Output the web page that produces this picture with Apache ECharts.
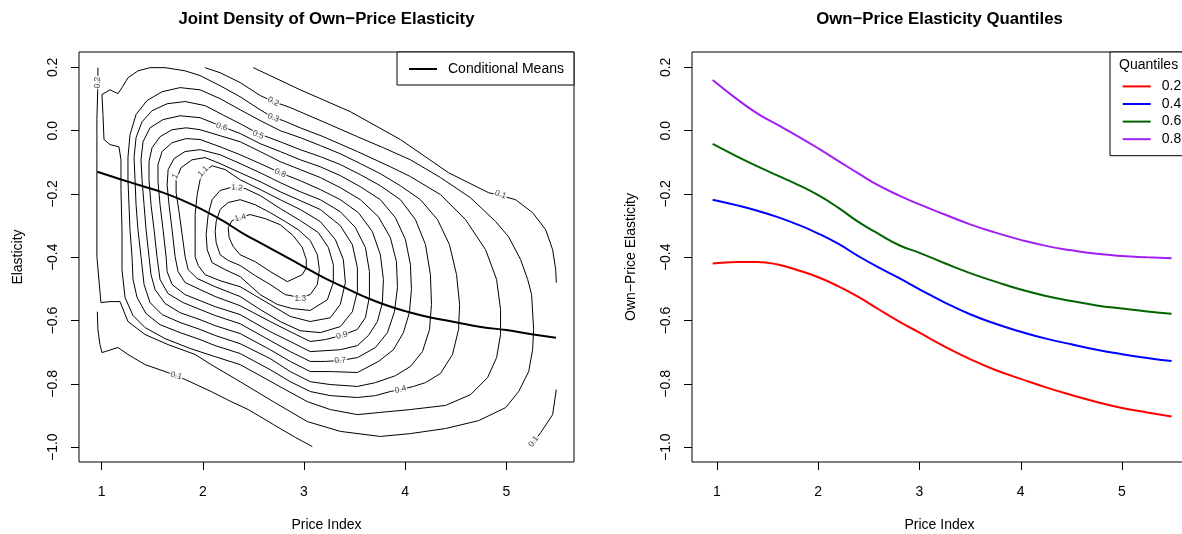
<!DOCTYPE html>
<html><head><meta charset="utf-8">
<script src="https://cdn.jsdelivr.net/npm/echarts@6/dist/echarts.min.js"></script>
<style>html,body{margin:0;padding:0;background:#fff}#c{width:1182px;height:534px}</style>
</head><body><div id="c"></div>
<script>
// ---------- tick labels ----------
const xTicks = [1, 2, 3, 4, 5];
const yTicks = [-1, -0.8, -0.6, -0.4, -0.2, 0, 0.2];

// ---------- left panel: conditional means ----------
const meanX = [0.957,1.2,1.4,1.6,1.8,2.0,2.2,2.4,2.6,2.8,3.0,3.2,3.4,3.6,3.8,4.0,4.25,4.5,4.75,5.0,5.25,5.49];
const meanY = [-0.13,-0.155,-0.175,-0.195,-0.22,-0.25,-0.285,-0.325,-0.36,-0.395,-0.43,-0.465,-0.495,-0.525,-0.55,-0.57,-0.59,-0.605,-0.62,-0.63,-0.643,-0.654];

// ---------- left panel: density contour lines (x = price index, y = elasticity) ----------
const contour01a = [[2.498,0.199],[2.666,0.174],[2.963,0.129],[3.458,0.060],[3.953,-0.028],[4.429,-0.133],[4.825,-0.196],[4.943,-0.205],[5.092,-0.218],[5.260,-0.259],[5.389,-0.313],[5.458,-0.376],[5.488,-0.439],[5.494,-0.480]];
const contour01b = [[5.494,-0.818],[5.458,-0.897],[5.340,-0.954],[5.270,-0.982],[5.221,-0.995]];
const contour01c = [[0.957,-0.572],[0.963,-0.628],[0.983,-0.676],[1.003,-0.701],[1.161,-0.685],[1.260,-0.707],[1.429,-0.739],[1.627,-0.761],[1.736,-0.774],[1.825,-0.786],[2.082,-0.824],[2.280,-0.856],[2.449,-0.881],[2.696,-0.928],[2.914,-0.969],[3.082,-0.998]];
const contour02 = [[0.963,0.199],[0.963,0.152],[0.953,0.035],[0.953,-0.092],[0.953,-0.218],[0.953,-0.398],[0.993,-0.543],[1.082,-0.540],[1.181,-0.540],[1.260,-0.603],[1.429,-0.644],[1.657,-0.676],[1.924,-0.707],[2.082,-0.739],[2.369,-0.793],[2.696,-0.856],[3.033,-0.919],[3.359,-0.950],[3.755,-0.966],[4.052,-0.957],[4.399,-0.941],[4.726,-0.916],[4.993,-0.875],[5.122,-0.824],[5.221,-0.761],[5.260,-0.692],[5.270,-0.628],[5.250,-0.518],[5.211,-0.470],[5.141,-0.407],[5.022,-0.335],[4.894,-0.287],[4.646,-0.212],[4.349,-0.148],[4.052,-0.092],[3.785,-0.054],[3.528,-0.019],[3.191,0.028],[2.864,0.073],[2.696,0.092],[2.567,0.111],[2.369,0.152],[2.171,0.183],[2.023,0.199]];
const contour03 = [[1.023,-0.028],[1.013,0.051],[1.003,0.114],[1.082,0.129],[1.161,0.117],[1.201,0.136],[1.260,0.167],[1.359,0.189],[1.478,0.199],[1.627,0.199],[1.825,0.189],[1.973,0.174],[2.171,0.142],[2.369,0.107],[2.567,0.066],[2.696,0.041],[2.795,0.032],[2.963,0.009],[3.191,-0.019],[3.528,-0.066],[3.854,-0.114],[4.052,-0.145],[4.349,-0.202],[4.597,-0.281],[4.795,-0.376],[4.904,-0.470],[4.943,-0.565],[4.943,-0.644],[4.904,-0.717],[4.815,-0.780],[4.646,-0.834],[4.399,-0.868],[4.052,-0.881],[3.755,-0.890],[3.528,-0.897],[3.260,-0.881],[3.033,-0.856],[2.815,-0.818],[2.567,-0.774],[2.369,-0.739],[2.122,-0.714],[1.874,-0.688],[1.627,-0.657],[1.429,-0.622],[1.310,-0.584],[1.231,-0.527],[1.201,-0.439],[1.201,-0.313],[1.191,-0.186],[1.191,-0.092],[1.171,-0.051],[1.082,-0.044],[1.023,-0.028]];
const contour04 = [[1.300,-0.398],[1.280,-0.313],[1.270,-0.234],[1.260,-0.155],[1.260,-0.085],[1.280,-0.013],[1.340,0.051],[1.448,0.095],[1.597,0.123],[1.775,0.136],[1.973,0.129],[2.171,0.101],[2.369,0.066],[2.567,0.032],[2.765,0.000],[2.963,-0.022],[3.161,-0.047],[3.359,-0.073],[3.557,-0.104],[3.755,-0.136],[3.953,-0.174],[4.151,-0.218],[4.320,-0.281],[4.438,-0.360],[4.508,-0.455],[4.538,-0.549],[4.528,-0.628],[4.468,-0.707],[4.349,-0.767],[4.201,-0.796],[4.082,-0.808],[3.953,-0.818],[3.854,-0.824],[3.706,-0.837],[3.528,-0.843],[3.260,-0.837],[3.062,-0.824],[2.864,-0.793],[2.666,-0.755],[2.369,-0.704],[2.122,-0.679],[1.973,-0.660],[1.775,-0.638],[1.577,-0.613],[1.439,-0.578],[1.350,-0.527],[1.310,-0.470],[1.300,-0.398]];
const contour05 = [[1.389,-0.398],[1.359,-0.313],[1.340,-0.234],[1.330,-0.155],[1.320,-0.085],[1.340,-0.022],[1.399,0.028],[1.498,0.063],[1.647,0.085],[1.825,0.092],[2.023,0.079],[2.191,0.051],[2.369,0.022],[2.547,-0.009],[2.765,-0.035],[2.963,-0.060],[3.161,-0.082],[3.359,-0.107],[3.557,-0.139],[3.755,-0.174],[3.953,-0.218],[4.102,-0.281],[4.201,-0.360],[4.250,-0.455],[4.260,-0.549],[4.241,-0.628],[4.171,-0.698],[4.052,-0.745],[3.904,-0.774],[3.706,-0.796],[3.528,-0.808],[3.260,-0.802],[3.062,-0.793],[2.864,-0.761],[2.666,-0.720],[2.369,-0.673],[2.122,-0.647],[1.973,-0.628],[1.775,-0.606],[1.597,-0.581],[1.478,-0.543],[1.419,-0.486],[1.389,-0.398]];
const contour06 = [[1.468,-0.398],[1.439,-0.313],[1.419,-0.234],[1.399,-0.155],[1.389,-0.092],[1.409,-0.035],[1.478,0.009],[1.607,0.035],[1.775,0.047],[1.973,0.041],[2.191,0.013],[2.369,-0.009],[2.567,-0.041],[2.765,-0.066],[2.963,-0.092],[3.161,-0.114],[3.359,-0.142],[3.557,-0.177],[3.755,-0.218],[3.904,-0.275],[4.003,-0.344],[4.052,-0.423],[4.062,-0.502],[4.042,-0.575],[3.983,-0.638],[3.884,-0.692],[3.736,-0.729],[3.528,-0.764],[3.260,-0.761],[3.062,-0.761],[2.864,-0.729],[2.666,-0.692],[2.369,-0.641],[2.122,-0.616],[1.973,-0.597],[1.775,-0.575],[1.627,-0.546],[1.528,-0.502],[1.488,-0.455],[1.468,-0.398]];
const contour07 = [[1.547,-0.398],[1.518,-0.313],[1.488,-0.234],[1.468,-0.155],[1.468,-0.098],[1.498,-0.054],[1.577,-0.019],[1.696,0.003],[1.835,0.009],[1.973,0.003],[2.171,-0.016],[2.369,-0.035],[2.567,-0.066],[2.765,-0.098],[2.963,-0.123],[3.161,-0.148],[3.359,-0.180],[3.557,-0.218],[3.736,-0.272],[3.854,-0.338],[3.914,-0.414],[3.924,-0.496],[3.894,-0.572],[3.825,-0.638],[3.706,-0.685],[3.528,-0.717],[3.359,-0.726],[3.211,-0.729],[3.062,-0.729],[2.864,-0.698],[2.666,-0.663],[2.369,-0.610],[2.122,-0.584],[1.973,-0.565],[1.805,-0.543],[1.657,-0.515],[1.577,-0.470],[1.547,-0.398]];
const contour08 = [[1.637,-0.398],[1.607,-0.313],[1.577,-0.234],[1.557,-0.161],[1.557,-0.107],[1.597,-0.066],[1.696,-0.038],[1.835,-0.025],[1.973,-0.028],[2.171,-0.051],[2.369,-0.076],[2.567,-0.104],[2.765,-0.133],[2.963,-0.158],[3.161,-0.186],[3.359,-0.218],[3.538,-0.259],[3.676,-0.319],[3.755,-0.392],[3.785,-0.470],[3.775,-0.543],[3.726,-0.603],[3.637,-0.647],[3.528,-0.679],[3.359,-0.692],[3.062,-0.698],[2.864,-0.666],[2.666,-0.635],[2.369,-0.581],[2.122,-0.556],[1.973,-0.537],[1.825,-0.518],[1.696,-0.486],[1.647,-0.445],[1.637,-0.398]];
const contour09 = [[1.726,-0.398],[1.696,-0.313],[1.666,-0.234],[1.647,-0.171],[1.657,-0.123],[1.716,-0.088],[1.825,-0.066],[1.973,-0.060],[2.171,-0.076],[2.369,-0.104],[2.567,-0.133],[2.765,-0.164],[2.963,-0.193],[3.161,-0.218],[3.359,-0.256],[3.508,-0.306],[3.607,-0.369],[3.647,-0.445],[3.647,-0.524],[3.607,-0.591],[3.528,-0.628],[3.369,-0.647],[3.211,-0.660],[3.062,-0.666],[2.864,-0.635],[2.666,-0.603],[2.369,-0.553],[2.122,-0.524],[1.973,-0.502],[1.825,-0.480],[1.755,-0.445],[1.726,-0.398]];
const contour10 = [[1.825,-0.398],[1.795,-0.328],[1.765,-0.256],[1.736,-0.196],[1.736,-0.155],[1.785,-0.117],[1.894,-0.092],[2.023,-0.085],[2.171,-0.104],[2.369,-0.133],[2.567,-0.161],[2.765,-0.193],[2.963,-0.221],[3.161,-0.249],[3.359,-0.300],[3.478,-0.360],[3.528,-0.433],[3.528,-0.508],[3.478,-0.572],[3.359,-0.619],[3.161,-0.638],[2.963,-0.632],[2.765,-0.603],[2.567,-0.565],[2.369,-0.524],[2.122,-0.493],[1.944,-0.467],[1.855,-0.439],[1.825,-0.398]];
const contour11 = [[1.924,-0.398],[1.924,-0.328],[1.924,-0.265],[1.944,-0.202],[1.973,-0.155],[2.013,-0.129],[2.092,-0.111],[2.221,-0.123],[2.369,-0.155],[2.567,-0.186],[2.765,-0.218],[2.963,-0.249],[3.161,-0.287],[3.310,-0.344],[3.389,-0.407],[3.409,-0.480],[3.359,-0.549],[3.260,-0.591],[3.062,-0.603],[2.864,-0.587],[2.666,-0.549],[2.369,-0.493],[2.171,-0.474],[2.023,-0.455],[1.954,-0.426],[1.924,-0.398]];
const contour12 = [[2.053,-0.265],[2.092,-0.218],[2.171,-0.189],[2.270,-0.180],[2.419,-0.183],[2.567,-0.205],[2.765,-0.246],[2.963,-0.284],[3.142,-0.322],[3.241,-0.369],[3.290,-0.423],[3.290,-0.480],[3.231,-0.534],[3.062,-0.568],[2.884,-0.562],[2.736,-0.549],[2.567,-0.518],[2.369,-0.461],[2.221,-0.439],[2.092,-0.417],[2.043,-0.376],[2.033,-0.328],[2.053,-0.265]];
const contour13 = [[2.132,-0.287],[2.171,-0.249],[2.251,-0.227],[2.369,-0.218],[2.518,-0.234],[2.666,-0.259],[2.815,-0.287],[2.944,-0.313],[3.062,-0.347],[3.132,-0.392],[3.152,-0.439],[3.132,-0.486],[3.062,-0.518],[2.963,-0.527],[2.815,-0.518],[2.666,-0.486],[2.518,-0.458],[2.369,-0.426],[2.251,-0.410],[2.171,-0.392],[2.132,-0.354],[2.122,-0.319],[2.132,-0.287]];
const contour14 = [[2.251,-0.306],[2.290,-0.284],[2.369,-0.275],[2.468,-0.265],[2.617,-0.278],[2.765,-0.297],[2.894,-0.332],[2.983,-0.369],[3.023,-0.407],[3.023,-0.433],[2.983,-0.455],[2.835,-0.477],[2.666,-0.445],[2.518,-0.414],[2.369,-0.392],[2.300,-0.366],[2.260,-0.338],[2.251,-0.306]];

// contour level labels
const labelX = [0.963,2.696,2.696,2.188,2.547,2.765,2.003,1.726,2.337,2.369,2.963,3.376,3.359,3.953,1.736,4.943,5.270];
const labelY = [0.152,0.092,0.041,0.012,-0.013,-0.134,-0.129,-0.144,-0.181,-0.275,-0.531,-0.647,-0.726,-0.818,-0.774,-0.202,-0.982];
const labelText = ['0.2','0.2','0.3','0.6','0.5','0.8','1.1','1','1.2','1.4','1.3','0.9','0.7','0.4','0.1','0.1','0.1'];

// ---------- right panel: quantile curves ----------
const qX = [0.957,1.2,1.4,1.6,1.8,2.0,2.2,2.4,2.6,2.8,3.0,3.25,3.5,3.75,4.0,4.25,4.5,4.75,5.0,5.25,5.49];
const q20 = [-0.420,-0.415,-0.415,-0.423,-0.441,-0.463,-0.492,-0.526,-0.565,-0.603,-0.638,-0.682,-0.722,-0.756,-0.784,-0.811,-0.835,-0.857,-0.876,-0.890,-0.903];
const q40 = [-0.218,-0.236,-0.253,-0.273,-0.297,-0.325,-0.358,-0.397,-0.433,-0.466,-0.501,-0.543,-0.580,-0.610,-0.635,-0.657,-0.675,-0.692,-0.706,-0.718,-0.728];
const q60 = [-0.042,-0.082,-0.113,-0.142,-0.171,-0.204,-0.244,-0.289,-0.327,-0.362,-0.386,-0.419,-0.450,-0.477,-0.502,-0.522,-0.538,-0.552,-0.562,-0.571,-0.578];
const q80 = [0.160,0.099,0.054,0.018,-0.018,-0.056,-0.096,-0.136,-0.174,-0.205,-0.233,-0.265,-0.296,-0.322,-0.345,-0.364,-0.378,-0.389,-0.396,-0.400,-0.403];
const quantileNames = ['0.2','0.4','0.6','0.8'];

// ---------- styling ----------
const FONT = '"Liberation Sans", Arial, Helvetica, sans-serif';
const labelAngle = [90,-27,-22,-15,-22,-22,45,65,-5,15,0,15,3,15,-15,-20,55];
const qColors = ['#FF0000','#0000FF','#006400','#A020F0'];

function fmtY(v){ const s = Math.abs(v).toFixed(1); return (v < -1e-9 ? '\u2212' : '') + s; }
function xAxisCfg(gi, min, max){
  return {type:'value', gridIndex:gi, min:min, max:max, position:'bottom',
    name:'Price Index', nameLocation:'middle', nameGap:56,
    nameTextStyle:{fontSize:14, color:'#000', fontFamily:FONT},
    axisLine:{show:false, onZero:false},
    axisTick:{show:true, inside:false, length:8, customValues:xTicks, lineStyle:{color:'#000', width:1}},
    axisLabel:{show:true, customValues:xTicks, margin:23, fontSize:14, color:'#000', fontFamily:FONT,
      formatter:function(v){return String(Math.round(v));}},
    splitLine:{show:false}};
}
function yAxisCfg(gi, name){
  return {type:'value', gridIndex:gi, min:-1.0467, max:0.2485, position:'left',
    name:name, nameLocation:'middle', nameGap:54, nameRotate:90,
    nameTextStyle:{fontSize:14, color:'#000', fontFamily:FONT},
    axisLine:{show:false, onZero:false},
    axisTick:{show:true, inside:false, length:8, customValues:yTicks, lineStyle:{color:'#000', width:1}},
    axisLabel:{show:true, customValues:yTicks, rotate:90, margin:19, fontSize:14, color:'#000', fontFamily:FONT, formatter:fmtY},
    splitLine:{show:false}};
}

const contourPieces = [contour01a, contour01b, contour01c, contour02, contour03, contour04, contour05, contour06, contour07, contour08, contour09, contour10, contour11, contour12, contour13, contour14];

const series = [];
contourPieces.forEach(function(p, i){
  series.push({type:'line', name:'contour'+i, xAxisIndex:0, yAxisIndex:0, data:p, showSymbol:false, symbol:'none',
    lineStyle:{color:'#000', width:1}, silent:true, z:2, smooth:false});
});
series.push({type:'scatter', name:'levels', xAxisIndex:0, yAxisIndex:0, symbol:'circle', symbolSize:1,
  itemStyle:{color:'rgba(255,255,255,0)'}, silent:true, z:4,
  labelLayout:{hideOverlap:false},
  data: labelX.map(function(x,i){ return {value:[x, labelY[i]], name:labelText[i], label:{rotate:labelAngle[i]}}; }),
  label:{show:true, position:'inside', formatter:'{b}', fontSize:8.4, color:'#111', fontFamily:FONT, backgroundColor:'#fff', padding:[0,1]}
});
series.push({type:'line', name:'Conditional Means', xAxisIndex:0, yAxisIndex:0,
  data: meanX.map(function(x,i){return [x, meanY[i]];}), showSymbol:false, symbol:'none', smooth:true,
  lineStyle:{color:'#000', width:2}, itemStyle:{color:'#000'}, z:5});
[q20,q40,q60,q80].forEach(function(q, k){
  series.push({type:'line', name:quantileNames[k], xAxisIndex:1, yAxisIndex:1,
    data: qX.map(function(x,i){return [x, q[i]];}), showSymbol:false, symbol:'none', smooth:true,
    lineStyle:{color:qColors[k], width:2}, itemStyle:{color:qColors[k]}, z:3});
});

const option = {
  animation:false,
  backgroundColor:'#fff',
  title:[
    {text:'Joint Density of Own\u2212Price Elasticity', left:326.5, top:19, textAlign:'center', textVerticalAlign:'middle', padding:0,
      textStyle:{fontSize:16.8, fontWeight:'bold', color:'#000', fontFamily:FONT}},
    {text:'Own\u2212Price Elasticity Quantiles', left:939.5, top:19, textAlign:'center', textVerticalAlign:'middle', padding:0,
      textStyle:{fontSize:16.8, fontWeight:'bold', color:'#000', fontFamily:FONT}}
  ],
  grid:[
    {left:79, top:52, width:495, height:410, show:true, borderColor:'#000', borderWidth:1, backgroundColor:'transparent', containLabel:false, outerBoundsMode:'none'},
    {left:692, top:52, width:495, height:410, show:true, borderColor:'#000', borderWidth:1, backgroundColor:'transparent', containLabel:false, outerBoundsMode:'none'}
  ],
  xAxis:[xAxisCfg(0, 0.776, 5.669), xAxisCfg(1, 0.753, 5.642)],
  yAxis:[yAxisCfg(0, 'Elasticity'), yAxisCfg(1, 'Own\u2212Price Elasticity')],
  legend:[
    {data:['Conditional Means'], left:397, top:52, orient:'vertical', icon:'rect', itemWidth:28, itemHeight:2,
      padding:[10,10,9,12], borderColor:'#000', borderWidth:1, backgroundColor:'#fff', selectedMode:false,
      textStyle:{fontSize:14, color:'#000', fontFamily:FONT, lineHeight:14, padding:[0,0,0,6]}},
    {data:quantileNames, left:1110, top:52, orient:'vertical', icon:'rect', itemWidth:28, itemHeight:2, itemGap:3.6,
      padding:[27.4,8,9.5,12.7], borderColor:'#000', borderWidth:1, backgroundColor:'#fff', selectedMode:false,
      textStyle:{fontSize:14, color:'#000', fontFamily:FONT, lineHeight:14, padding:[0,0,0,6]}}
  ],
  graphic:[
    {type:'text', x:1119, y:65, z:100, style:{text:'Quantiles', fill:'#000', font:'14px ' + FONT, verticalAlign:'middle', align:'left'}}
  ],
  series: series
};
const chart = echarts.init(document.getElementById('c'), null, {renderer:'canvas', width:1182, height:534});
chart.setOption(option);
</script>
</body></html>
